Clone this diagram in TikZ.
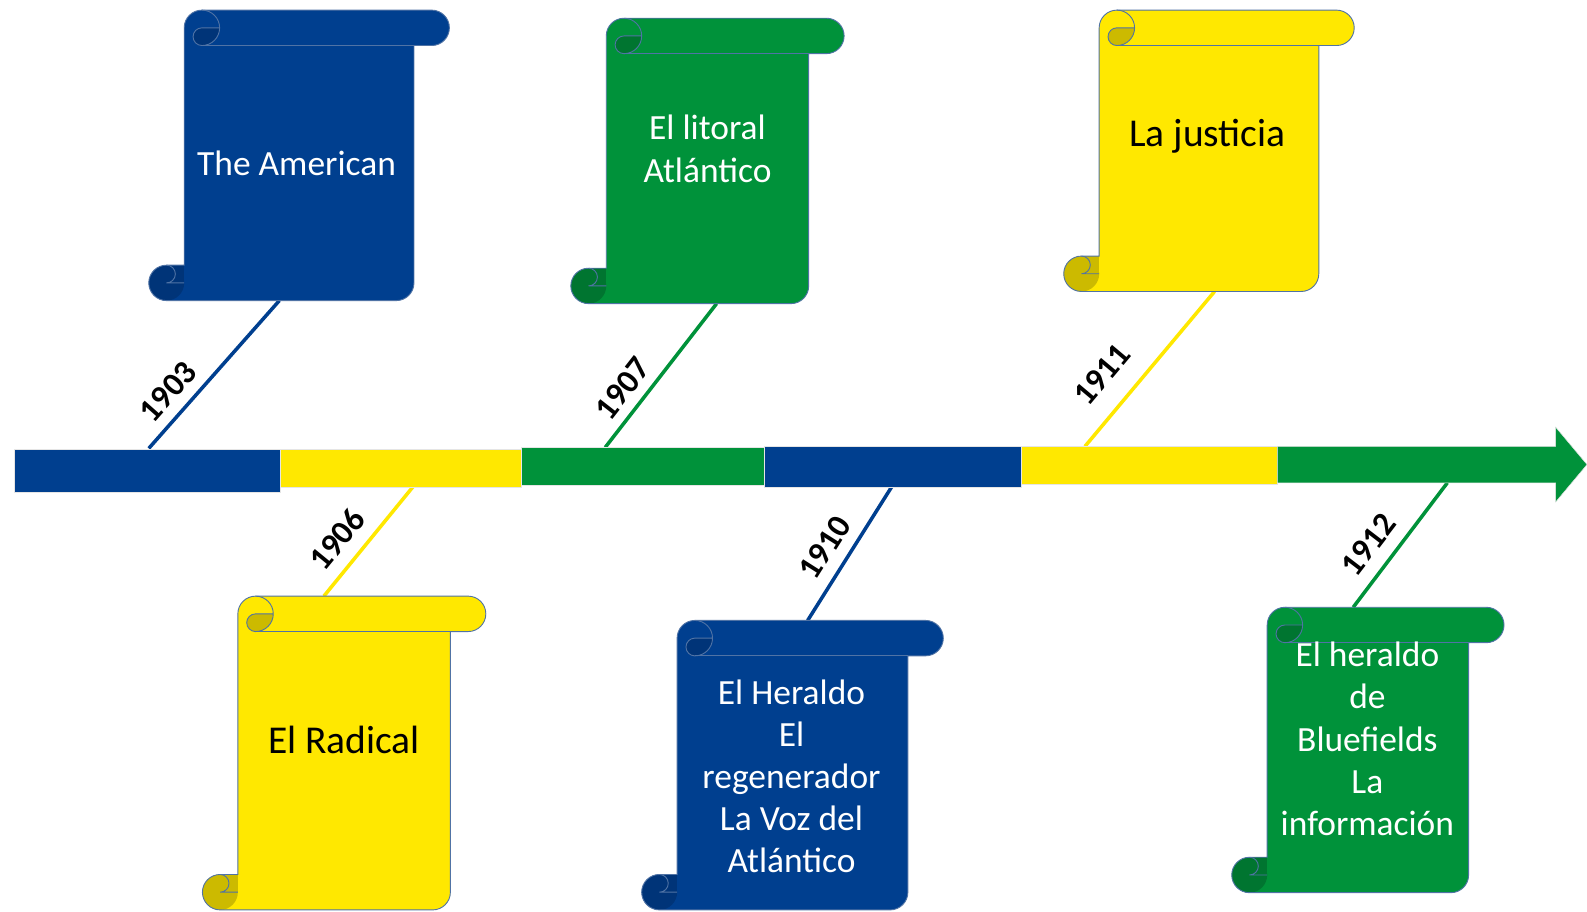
\documentclass[tikz,border=0pt]{standalone}
\usepackage{fontspec}
\setmainfont{Carlito}
\definecolor{tlblue}{RGB}{0,63,143}
\definecolor{tlbluedk}{RGB}{0,52,120}
\definecolor{tlyellow}{RGB}{255,232,0}
\definecolor{tlyellowdk}{RGB}{204,186,0}
\definecolor{tlgreen}{RGB}{0,146,58}
\definecolor{tlgreendk}{RGB}{0,117,48}
\definecolor{sline}{RGB}{80,115,165}
\tikzset{
  conn/.style={line width=3.5pt, draw=#1},
  sedge/.style={draw=sline, line width=0.9pt},
  stext/.style={align=center, font=\fontsize{35}{41.7}\selectfont, inner sep=0pt},
  btext/.style={align=center, font=\fontsize{39}{46}\selectfont, inner sep=0pt},
  yearlbl/.style={font=\fontsize{33}{38}\selectfont\bfseries, inner sep=0pt, text=black},
  barseg/.style={draw=white!80!gray, line width=0.5pt}
}
% scroll: #1 l, #2 t, #3 r, #4 b, #5 fill, #6 dark fill
\newcommand\drawscroll[6]{%
  \pgfmathsetmacro\sXa{#1}\pgfmathsetmacro\sYa{#2}%
  \pgfmathsetmacro\sRa{#3}\pgfmathsetmacro\sBa{#4}%
  \def\sCc{35}\def\sCh{17.5}\def\sCq{8.75}%
  \pgfmathsetmacro\sxA{\sXa+\sCh}%
  \pgfmathsetmacro\sxB{\sXa+\sCc}%
  \pgfmathsetmacro\sxC{\sXa+1.5*\sCc}%
  \pgfmathsetmacro\sxD{\sXa+2*\sCc}%
  \pgfmathsetmacro\sxE{\sRa-1.5*\sCc}%
  \pgfmathsetmacro\sxF{\sRa-\sCc}%
  \pgfmathsetmacro\sxG{\sRa-\sCh}%
  \pgfmathsetmacro\syA{\sYa+\sCh}%
  \pgfmathsetmacro\syB{\sYa+\sCc}%
  \pgfmathsetmacro\syC{\sBa-\sCc}%
  \pgfmathsetmacro\syD{\sBa-\sCh}%
  \fill[#5] (\sxA,\sBa) -- (\sxE,\sBa) arc[start angle=90,end angle=0,radius=\sCh]
    -- (\sxF,\syB) -- (\sxG,\syB) arc[start angle=90,end angle=-90,radius=\sCh]
    -- (\sxC,\sYa) arc[start angle=270,end angle=180,radius=\sCh]
    -- (\sxB,\syC) -- (\sxA,\syC) arc[start angle=270,end angle=90,radius=\sCh] -- cycle;
  \fill[#6] (\sxA,\syD) circle[radius=\sCh];
  \fill[#6] (\sxA,\syC) rectangle (\sxB,\syD);
  \fill[#6] (\sxD,\syA) arc[start angle=0,end angle=90,radius=\sCh]
    arc[start angle=90,end angle=270,radius=\sCq] -- cycle;
  \draw[sedge] (\sxA,\sBa) -- (\sxE,\sBa) arc[start angle=90,end angle=0,radius=\sCh]
    -- (\sxF,\syB) -- (\sxG,\syB) arc[start angle=90,end angle=-90,radius=\sCh]
    -- (\sxC,\sYa) arc[start angle=270,end angle=180,radius=\sCh]
    -- (\sxB,\syC) -- (\sxA,\syC) arc[start angle=270,end angle=90,radius=\sCh] -- cycle;
  \draw[sedge] (\sxC,\sYa) arc[start angle=270,end angle=450,radius=\sCh]
    arc[start angle=90,end angle=270,radius=\sCq] -- (\sxD,\syA);
  \draw[sedge] (\sxF,\syB) -- (\sxC,\syB);
  \draw[sedge] (\sxA,\syC) arc[start angle=270,end angle=450,radius=\sCq] -- (\sxB,\syD);
}
\begin{document}
\begin{tikzpicture}[x=1pt,y=-1pt]
\useasboundingbox[fill=white] (0,0) rectangle (1568,901);
% connector end points
\coordinate (b1) at (147,443); \coordinate (s1) at (276,297);
\coordinate (b2) at (408,481); \coordinate (s2) at (320,589);
\coordinate (b3) at (598,442); \coordinate (s3) at (708,300);
\coordinate (b4) at (881,481); \coordinate (s4) at (798,613);
\coordinate (b5) at (1072,441); \coordinate (s5) at (1200,288);
\coordinate (b6) at (1430,477); \coordinate (s6) at (1337,600);
\draw[conn=tlblue] (b1) -- (s1);
\draw[conn=tlyellow] (b2) -- (s2);
\draw[conn=tlgreen] (b3) -- (s3);
\draw[conn=tlblue] (b4) -- (s4);
\draw[conn=tlyellow] (b5) -- (s5);
\draw[conn=tlgreen] (b6) -- (s6);
% timeline bar
\fill[tlblue, barseg] (14,444) rectangle (277,486);
\fill[tlyellow, barseg] (277,444) rectangle (515,481);
\fill[tlgreen, barseg] (515,442) rectangle (755,479);
\fill[tlblue, barseg] (755,441) rectangle (1009,481);
\fill[tlyellow, barseg] (1009,441) rectangle (1262,478);
\fill[tlgreen, barseg] (1262,441) -- (1537,441) -- (1537,422) -- (1568,459)
  -- (1537,496) -- (1537,477) -- (1262,477) -- cycle;
% year labels
\node[yearlbl, rotate=48.5] (y1903) at (166,387) {1903};
\node[yearlbl, rotate=50.6] (y1906) at (333,533) {1906};
\node[yearlbl, rotate=52] (y1907) at (615,384) {1907};
\node[yearlbl, rotate=57.6] (y1910) at (815,541) {1910};
\node[yearlbl, rotate=50] (y1911) at (1089,370) {1911};
\node[yearlbl, rotate=52.5] (y1912) at (1352,538) {1912};
% scrolls
\drawscroll{147}{10}{444}{297}{tlblue}{tlbluedk}
\drawscroll{200}{589}{480}{899}{tlyellow}{tlyellowdk}
\drawscroll{564}{18}{834}{300}{tlgreen}{tlgreendk}
\drawscroll{634}{613}{932}{899}{tlblue}{tlbluedk}
\drawscroll{1051}{10}{1338}{288}{tlyellow}{tlyellowdk}
\drawscroll{1217}{600}{1486}{882}{tlgreen}{tlgreendk}
% texts
\node[stext, text=white] (t1) at (293,161) {The American};
\node[btext, text=black] (t2) at (340,731) {El Radical};
\node[stext, text=white] (t3) at (699,147) {El litoral\\Atlántico};
\node[stext, text=white] (t4) at (782,767) {El Heraldo\\El\\regenerador\\La Voz del\\Atlántico};
\node[btext, text=black] (t5) at (1193,135) {La justicia};
\node[stext, text=white] (t6) at (1351,730) {El heraldo\\de\\Bluefields\\La\\información};
\end{tikzpicture}
\end{document}
